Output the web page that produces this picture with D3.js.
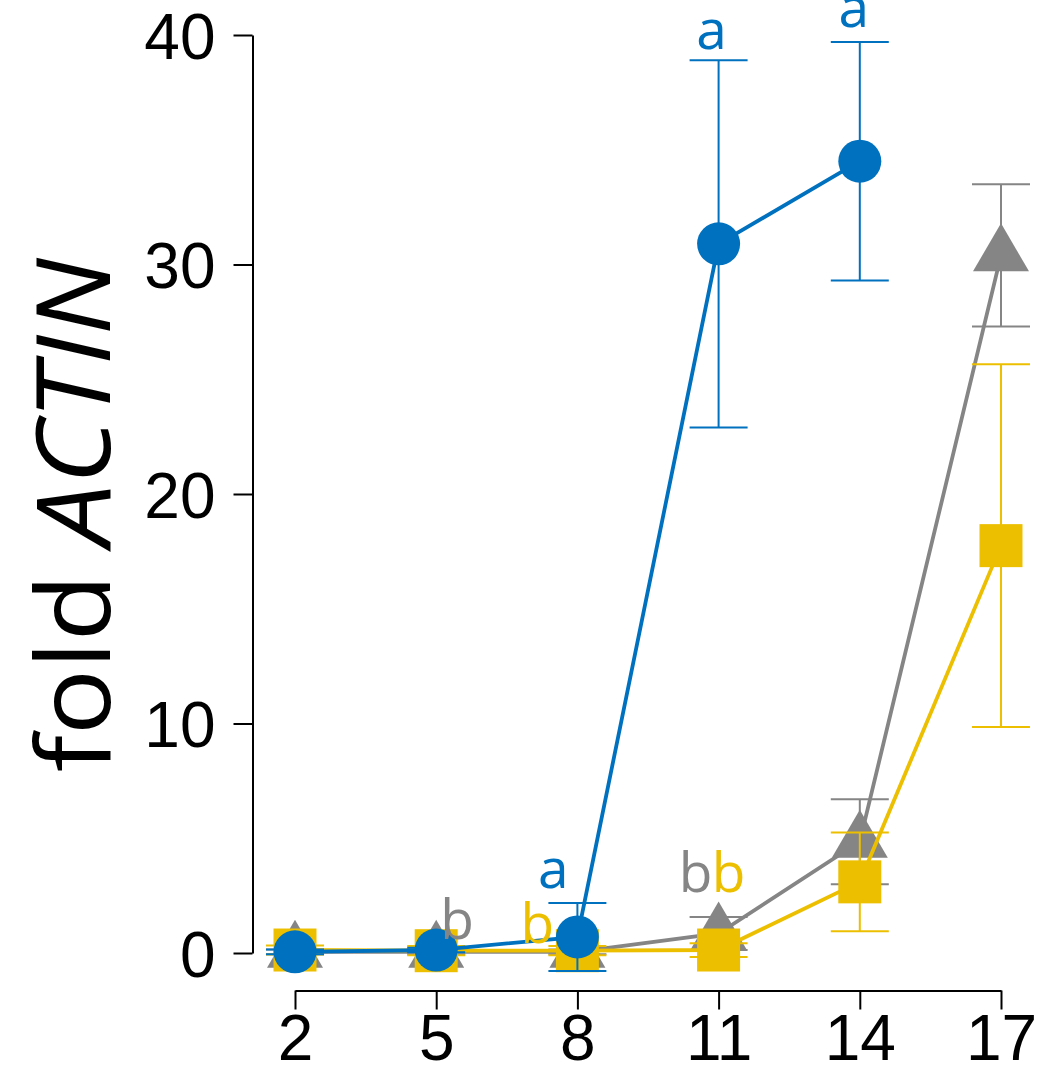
<!DOCTYPE html>
<html>
<head>
<meta charset="utf-8">
<script src="https://cdn.jsdelivr.net/npm/d3@7"></script>
<style>
  html, body { margin: 0; padding: 0; background: #fff; }
  svg { display: block; }
</style>
</head>
<body>
<svg id="chart" width="1051" height="1067"></svg>
<script>
// Days sampled
const days = [2, 5, 8, 11, 14, 17];

// Mean fold change relative to ACTIN, per line (null = not measured)
const blueMean   = [0.05, 0.13, 0.70, 30.9, 34.5, null];
const blueErr    = [0.10, 0.10, 1.48, 8.0, 5.2, null];
const grayMean   = [0.05, 0.05, 0.05, 0.85, 4.85, 30.4];
const grayErr    = [0.10, 0.10, 0.10, 0.72, 1.85, 3.1];
const yellowMean = [0.13, 0.10, 0.10, 0.13, 3.1, 17.75];
const yellowErr  = [0.20, 0.20, 0.20, 0.30, 2.15, 7.9];

// Axis ticks
const yTicks = [0, 10, 20, 30, 40];
const xTicks = [2, 5, 8, 11, 14, 17];

// Significance letters: series, day, letter
const letterSeries = ["blue", "blue", "blue", "gray", "yellow", "gray", "yellow"];
const letterDays   = [8, 11, 14, 5, 8, 11, 11];
const letterText   = ["a", "a", "a", "b", "b", "b", "b"];

const colors = { blue: "#0071BE", gray: "#858585", yellow: "#ECBF00" };

const svg = d3.select("#chart");

const x = d3.scaleLinear().domain([2, 17]).range([295, 1001]);
const y = d3.scaleLinear().domain([0, 40]).range([953, 35]);

// Y axis
const yAxis = svg.append("g").attr("transform", "translate(252.5,0)")
  .call(d3.axisLeft(y).tickValues(yTicks).tickSize(19).tickPadding(18).tickSizeOuter(0));
yAxis.select(".domain").attr("stroke", "#000").attr("stroke-width", 2);
yAxis.selectAll(".tick line").attr("stroke", "#000").attr("stroke-width", 2);
yAxis.selectAll(".tick text")
  .attr("font-family", "'Liberation Sans', Arial, sans-serif")
  .attr("font-size", 64).attr("fill", "#000").attr("dy", "0.36em");

// X axis
const xAxis = svg.append("g").attr("transform", "translate(0,990.5)")
  .call(d3.axisBottom(x).tickValues(xTicks).tickSize(19).tickPadding(4).tickSizeOuter(0));
xAxis.select(".domain").attr("stroke", "#000").attr("stroke-width", 2);
xAxis.selectAll(".tick line").attr("stroke", "#000").attr("stroke-width", 2);
xAxis.selectAll(".tick text")
  .attr("font-family", "'Liberation Sans', Arial, sans-serif")
  .attr("font-size", 64).attr("fill", "#000").attr("dy", "0.72em");

// Y label
const ylab = svg.append("text")
  .attr("transform", "translate(110,515) rotate(-90)")
  .attr("text-anchor", "middle")
  .attr("font-family", "'Open Sans', sans-serif")
  .attr("font-size", 102)
  .attr("textLength", 514)
  .attr("lengthAdjust", "spacingAndGlyphs")
  .attr("fill", "#000");
ylab.append("tspan").text("fold ");
ylab.append("tspan").attr("font-style", "italic").text("ACTIN");

function seriesData(means, errs) {
  return days.map((d, i) => ({ day: d, mean: means[i], err: errs[i] }))
             .filter(p => p.mean !== null);
}

const series = [
  { key: "gray",   data: seriesData(grayMean, grayErr),     shape: "triangle" },
  { key: "yellow", data: seriesData(yellowMean, yellowErr), shape: "square" },
  { key: "blue",   data: seriesData(blueMean, blueErr),     shape: "circle" }
];

const line = d3.line().x(p => x(p.day)).y(p => y(p.mean));
const capHalf = 29;

series.forEach(s => {
  const c = colors[s.key];
  const g = svg.append("g");

  g.append("path").datum(s.data)
    .attr("d", line).attr("fill", "none")
    .attr("stroke", c).attr("stroke-width", 3.8);

  const eb = g.selectAll(".eb").data(s.data).join("g");
  eb.append("line")
    .attr("x1", p => x(p.day)).attr("x2", p => x(p.day))
    .attr("y1", p => y(p.mean - p.err)).attr("y2", p => y(p.mean + p.err))
    .attr("stroke", c).attr("stroke-width", 2);
  [-1, 1].forEach(sign => {
    eb.append("line")
      .attr("x1", p => x(p.day) - capHalf).attr("x2", p => x(p.day) + capHalf)
      .attr("y1", p => y(p.mean + sign * p.err)).attr("y2", p => y(p.mean + sign * p.err))
      .attr("stroke", c).attr("stroke-width", 2);
  });

  const pts = g.selectAll(".pt").data(s.data).join("g")
    .attr("transform", p => `translate(${x(p.day)},${y(p.mean)})`);
  if (s.shape === "circle") {
    pts.append("circle").attr("r", 21.5).attr("fill", c);
  } else if (s.shape === "square") {
    pts.append("rect").attr("x", -21.5).attr("y", -21.5)
      .attr("width", 43).attr("height", 43).attr("fill", c);
  } else {
    // triangle with its centroid on the point
    pts.append("path").attr("d", "M0,-32L28,16L-28,16Z").attr("fill", c);
  }
});

// Letter placement nudges (pixels from the top of the error bar)
const letterNudge = [[-24, -15], [-7, -11], [-6, -15], [21, -11], [-40, -3], [-23, -25], [10, -51]];
const seriesLookup = { blue: [blueMean, blueErr], gray: [grayMean, grayErr], yellow: [yellowMean, yellowErr] };

svg.append("g").selectAll("text")
  .data(letterText.map((t, i) => ({ t, s: letterSeries[i], d: letterDays[i], n: letterNudge[i] })))
  .join("text")
  .attr("x", o => x(o.d) + o.n[0])
  .attr("y", o => {
    const idx = days.indexOf(o.d);
    const [m, e] = seriesLookup[o.s];
    return y(m[idx] + e[idx]) + o.n[1];
  })
  .attr("text-anchor", "middle")
  .attr("font-family", "'Open Sans', sans-serif")
  .attr("font-size", 55)
  .attr("fill", o => colors[o.s])
  .text(o => o.t);
</script>
</body>
</html>
